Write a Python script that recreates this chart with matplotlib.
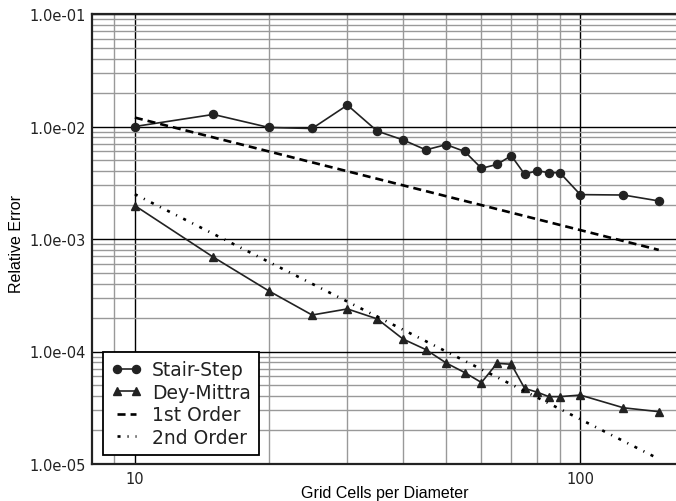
import matplotlib
matplotlib.use("Agg")
import matplotlib.pyplot as plt
from matplotlib.ticker import FixedLocator, NullFormatter, FuncFormatter

# --------- DATA -----------------------------------
cells = [10, 15, 20, 25, 30, 35, 40, 45, 50, 55, 60, 65, 70, 75, 80, 85, 90, 100, 125, 150]

stair_step = [1.0e-2, 1.28e-2, 9.8e-3, 9.6e-3, 1.55e-2, 9.1e-3, 7.6e-3, 6.2e-3, 6.9e-3, 6.0e-3,
              4.25e-3, 4.6e-3, 5.5e-3, 3.76e-3, 4.05e-3, 3.88e-3, 3.88e-3, 2.48e-3, 2.46e-3, 2.18e-3]

dey_mittra = [1.98e-3, 6.9e-4, 3.45e-4, 2.11e-4, 2.39e-4, 1.95e-4, 1.29e-4, 1.04e-4, 7.9e-5, 6.5e-5,
              5.3e-5, 7.85e-5, 7.7e-5, 4.7e-5, 4.35e-5, 3.97e-5, 3.97e-5, 4.1e-5, 3.16e-5, 2.92e-5]

ref_x = [10, 150]
first_order = [1.2e-2, 8.0e-4]
second_order = [2.5e-3, 1.11e-5]

y_major = [1e-5, 1e-4, 1e-3, 1e-2, 1e-1]
x_major = [10, 100]

plt.rcParams["font.family"] = ["DejaVu Sans"]
plt.rcParams["lines.scale_dashes"] = False

fig = plt.figure(figsize=(6.76, 5.02), dpi=100)
ax = fig.add_axes([91.7 / 676, 1 - 465 / 502, 1 - 91.7 / 676, 450 / 502])
ax.set_xscale("log")
ax.set_yscale("log")
ax.set_xlim(8.0, 164)
ax.set_ylim(1e-5, 1e-1)

# --------- GRID ----------
minor_x = [9, 20, 30, 40, 50, 60, 70, 80, 90, 200]
minor_y = [m * 10.0 ** e for e in range(-5, -1) for m in range(2, 10)]
ax.xaxis.set_major_locator(FixedLocator(x_major))
ax.xaxis.set_minor_locator(FixedLocator(minor_x))
ax.yaxis.set_major_locator(FixedLocator(y_major))
ax.yaxis.set_minor_locator(FixedLocator(minor_y))
ax.xaxis.set_minor_formatter(NullFormatter())
ax.yaxis.set_minor_formatter(NullFormatter())
ax.xaxis.set_major_formatter(FuncFormatter(lambda v, p: "%d" % v))
ax.yaxis.set_major_formatter(FuncFormatter(lambda v, p: "%.1e" % v))
ax.grid(True, which="minor", color="#999999", linewidth=1.0)
ax.grid(True, which="major", color="black", linewidth=1.0)
ax.tick_params(which="both", length=0)
ax.tick_params(axis="both", labelsize=10.5, colors="#222222")
ax.tick_params(axis="x", pad=5)
ax.tick_params(axis="y", pad=4)
for s in ["left", "bottom", "top"]:
    ax.spines[s].set_linewidth(1.6)
    ax.spines[s].set_color("#222222")
ax.spines["right"].set_visible(False)

# --------- CURVES ----------
ax.plot(cells, stair_step, color="#222222", linewidth=1.2, marker="o", markersize=5.8,
        label="Stair-Step")
ax.plot(cells, dey_mittra, color="#222222", linewidth=1.2, marker="^", markersize=5.5,
        label="Dey-Mittra")
ax.plot(ref_x, first_order, color="black", linewidth=1.9, linestyle=(0, (5.8, 3.6)),
        label="1st Order")
ax.plot(ref_x, second_order, color="black", linewidth=1.9, linestyle=(0, (2.2, 5.0, 0.8, 5.0)),
        label="2nd Order")

ax.set_xlabel("Grid Cells per Diameter", fontsize=11.5, family="Liberation Sans")
ax.set_ylabel("Relative Error", fontsize=11.5, family="Liberation Sans")
ax.xaxis.set_label_coords(0.502, -0.047)
ax.yaxis.set_label_coords(-0.116, 0.49)

leg = ax.legend(loc="upper left", bbox_to_anchor=(103 / 676, 1 - 353 / 502),
                bbox_transform=fig.transFigure, fontsize=13.5, numpoints=2,
                handlelength=1.6, handletextpad=0.57, borderpad=0.45, labelspacing=0.18,
                fancybox=False, framealpha=1.0, borderaxespad=0)
leg.get_frame().set_edgecolor("black")
leg.get_frame().set_linewidth(1.3)
for t in leg.get_texts():
    t.set_color("#222222")

fig.savefig("out.png", dpi=100)
